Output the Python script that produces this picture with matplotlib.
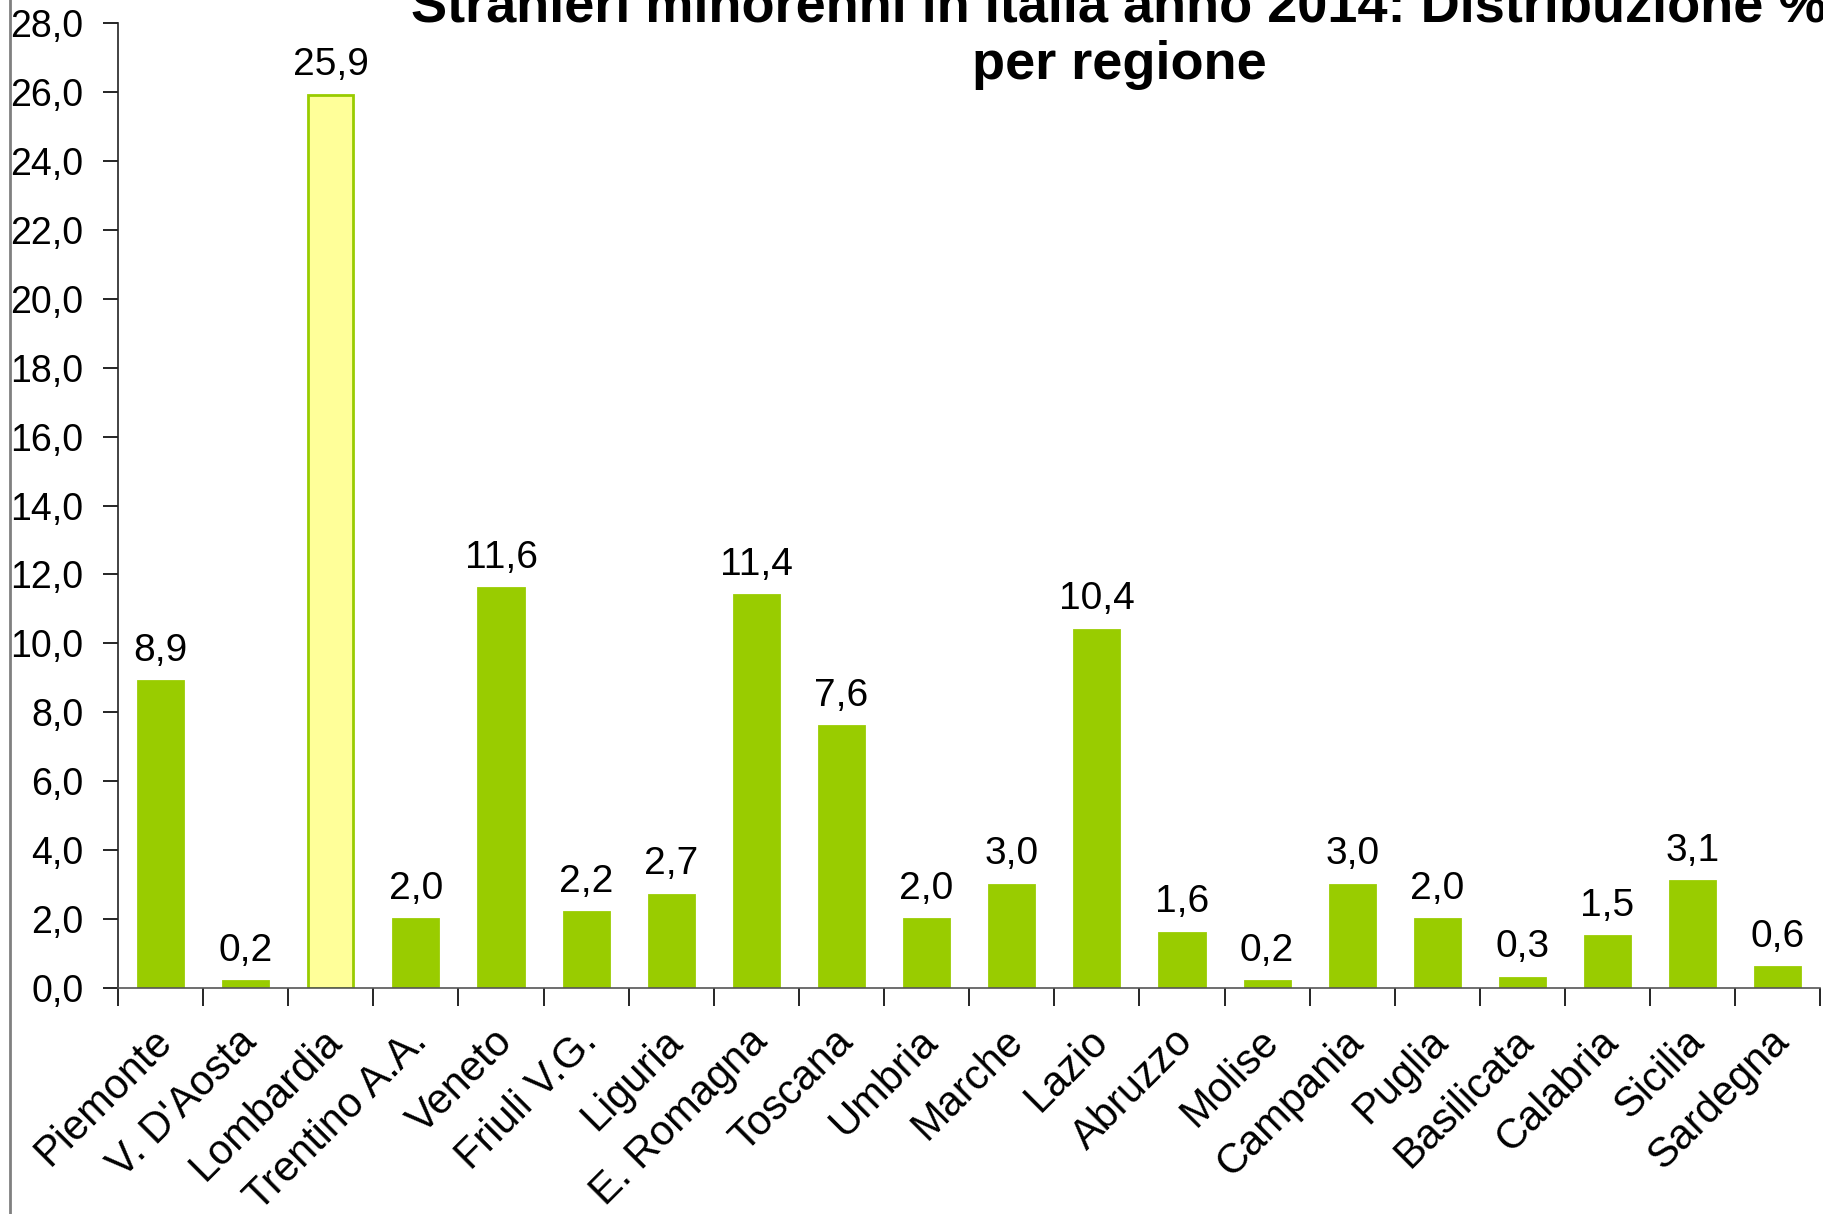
import matplotlib.pyplot as plt
from matplotlib.lines import Line2D
from matplotlib.ticker import FixedLocator, FuncFormatter
from matplotlib.transforms import ScaledTranslation

REGIONS = ["Piemonte", "V. D'Aosta", "Lombardia", "Trentino A.A.", "Veneto",
           "Friuli V.G.", "Liguria", "E. Romagna", "Toscana", "Umbria",
           "Marche", "Lazio", "Abruzzo", "Molise", "Campania", "Puglia",
           "Basilicata", "Calabria", "Sicilia", "Sardegna"]
SHARE = [8.9, 0.2, 25.9, 2.0, 11.6, 2.2, 2.7, 11.4, 7.6, 2.0,
         3.0, 10.4, 1.6, 0.2, 3.0, 2.0, 0.3, 1.5, 3.1, 0.6]
HIGHLIGHT = "Lombardia"
YTICKS = [0, 2, 4, 6, 8, 10, 12, 14, 16, 18, 20, 22, 24, 26, 28]

GREEN = "#99CC00"
YELLOW = "#FFFF99"

plt.rcParams["font.family"] = ["Liberation Sans", "DejaVu Sans"]


def comma(v, pos=None):
    return f"{v:.1f}".replace(".", ",")


fig = plt.figure(figsize=(18.24, 12.14), dpi=100)
ax = fig.add_axes([0.0647, 0.1862, 0.9333, 0.7948])

x = list(range(len(REGIONS)))
faces = [YELLOW if r == HIGHLIGHT else GREEN for r in REGIONS]
bars = ax.bar(x, SHARE, width=0.53, color=faces, edgecolor=GREEN, linewidth=2)

for b, v in zip(bars, SHARE):
    ax.annotate(comma(v), (b.get_x() + b.get_width() / 2, v),
                xytext=(0, 9), textcoords="offset points",
                ha="center", va="bottom", fontsize=28)

ax.set_xlim(-0.5, len(REGIONS) - 0.5)
ax.set_ylim(0, 28)
ax.yaxis.set_major_locator(FixedLocator(YTICKS))
ax.yaxis.set_major_formatter(FuncFormatter(comma))
ax.tick_params(axis="y", labelsize=27, length=11, width=1.2, direction="out", pad=14)

ax.set_xticks([i - 0.5 for i in range(len(REGIONS) + 1)])
ax.set_xticklabels([])
ax.tick_params(axis="x", length=13, width=1.2, direction="out")
ax.set_xticks(x, minor=True)
ax.set_xticklabels(REGIONS, minor=True, rotation=45, ha="right", va="top",
                   rotation_mode="anchor", fontsize=30)
ax.tick_params(axis="x", which="minor", length=0, pad=24)
shift = ScaledTranslation(-0.09, 0, fig.dpi_scale_trans)
for lab in ax.get_xticklabels(minor=True):
    lab.set_transform(lab.get_transform() + shift)

for s in ["top", "right"]:
    ax.spines[s].set_visible(False)
ax.spines["left"].set_color("#222222")
ax.spines["bottom"].set_color("#555555")
ax.spines["left"].set_linewidth(1.2)
ax.spines["bottom"].set_linewidth(1.2)

# title runs off the top and right edge, as in the source image
fig.text(0.6135, 0.9827, "Stranieri minorenni in Italia anno 2014: Distribuzione %",
         ha="center", va="baseline", fontsize=39, fontweight="bold")
fig.text(0.6135, 0.9349, "per regione",
         ha="center", va="baseline", fontsize=39, fontweight="bold")

fig.add_artist(Line2D([0.0055, 0.0055], [0, 1], transform=fig.transFigure,
                      color="#808080", linewidth=2))

fig.savefig("out.png", dpi=100)
